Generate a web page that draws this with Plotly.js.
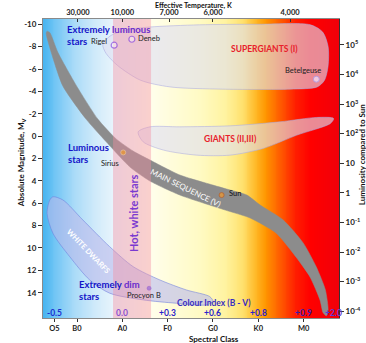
<!DOCTYPE html>
<html><head><meta charset="utf-8">
<script src="https://cdn.plot.ly/plotly-3.0.1.min.js"></script>
<style>html,body{margin:0;padding:0;background:#fff}#chart{width:366px;height:343px}</style>
</head><body><div id="chart"></div>
<script>
// ---- data (spectral index: O=0,B=1,A=2,F=3,G=4,K=5,M=6 ; absolute magnitude) ----
const spectralTicks = [0.5, 1, 2, 3, 4, 5, 6];
const spectralLabels = ['O5', 'B0', 'A0', 'F0', 'G0', 'K0', 'M0'];
const tempTicks = [1.02, 2.0, 3.03, 4.0, 5.7];
const tempLabels = ['30,000', '10,000', '7,000', '6,000', '4,000'];
const magTicks = [-10, -8, -6, -4, -2, 0, 2, 4, 6, 8, 10, 12, 14];
const magLabels = ['-10', '-8', '-6', '-4', '-2', '0', '2', '4', '6', '8', '10', '12', '14'];
const lumTicks = [1e5, 1e4, 1e3, 1e2, 10, 1, 0.1, 0.01, 0.001, 0.0001];
const lumLabels = ['10<sup>5</sup>', '10<sup>4</sup>', '10<sup>3</sup>', '10<sup>2</sup>', '10', '1',
                   '10<sup>-1</sup>', '10<sup>-2</sup>', '10<sup>-3</sup>', '10<sup>-4</sup>'];
const colourIndexPos = [0.5, 2, 3, 4, 5, 6, 6.66];
const colourIndexLabels = ['-0.5', '0.0', '+0.3', '+0.6', '+0.8', '+0.9', '+2.0'];
const colourIndexColors = ['#1a2fd0', '#8a4fd0', '#2a22cc', '#2a22cc', '#2a22cc', '#3a1aa8', '#5a3ad8'];

// regions
const mainSeqX = [0.34,0.40,0.58,0.99,1.46,1.87,2.24,2.61,3.27,4.00,4.38,4.75,5.04,5.55,5.99,6.28,6.48,6.54,6.50,
                  6.43,6.36,6.14,5.83,5.39,4.82,4.27,3.27,2.61,2.17,1.73,1.20,0.69,0.43,0.32];
const mainSeqY = [-9.38,-9.26,-7.47,-4.49,-1.52,0.27,1.34,2.14,3.48,4.38,4.82,5.27,6.16,7.5,9.55,11.7,13.75,15.54,16.07,
                  15.8,14.64,12.59,10.8,8.66,7.32,6.61,5.27,4.02,2.77,0.89,-1.52,-4.46,-7.5,-9.2];
const superGiantX = [1.57,1.75,2.1,2.6,3.7,5.0,6.15,6.42,6.54,6.54,6.46,6.3,5.7,4.2,3.05,2.4,1.9,1.64];
const superGiantY = [-8.2,-9.0,-9.5,-9.75,-9.95,-10.0,-9.95,-9.3,-8.0,-6.3,-5.0,-4.4,-4.2,-4.2,-4.4,-5.0,-6.3,-7.4];
const giantX = [2.35,2.61,3.27,4.38,5.48,6.29,6.66,6.59,5.85,5.11,4.38,3.64,2.91,2.46];
const giantY = [-0.38,-0.83,-0.83,-0.92,-1.28,-1.67,-1.58,-1.13,-0.09,1.10,1.70,1.70,1.25,0.51];
const dwarfX = [0.47,0.69,1.13,1.72,2.24,2.83,3.41,3.93,4.00,3.85,3.19,2.46,1.72,1.28,0.84,0.47,0.34,0.40];
const dwarfY = [5.42,5.71,7.5,9.88,11.67,12.86,13.75,14.35,14.79,15.09,14.94,14.64,14.04,12.86,10.78,8.69,6.9,5.71];
const hotBand = [1.795, 2.634];

// named stars
const starNames = ['Rigel', 'Deneb', 'Sirius', 'Sun', 'Procyon B', 'Betelgeuse'];
const starX = [1.82, 2.21, 2.02, 4.19, 2.59, 6.28];
const starY = [-8.13, -8.66, 1.46, 5.27, 13.6, -5.09];

// background colour gradient along the spectral axis
const gradX = [0.25, 0.514, 0.956, 1.397, 1.795, 2.634, 3.715, 4.267, 4.642, 4.929, 5.15, 5.481, 5.812, 6.143, 6.78];
const gradColors = ['rgb(70,180,240)','rgb(115,198,245)','rgb(172,220,248)','rgb(208,234,250)','rgb(232,244,252)',
  'rgb(255,254,235)','rgb(255,250,195)','rgb(255,243,160)','rgb(255,225,110)','rgb(255,185,40)','rgb(255,150,0)',
  'rgb(255,90,0)','rgb(255,30,0)','rgb(255,0,0)','rgb(240,0,10)'];

const XR = [0.25, 6.78], YR = [16.26, -10.47];
const FONT = 'Lato, Liberation Sans, Arial, sans-serif';

// build background heatmap
const gx = []; for (let v = 0.2; v <= 6.85; v += 0.02) gx.push(+v.toFixed(3));
const gz = [gx.slice(), gx.slice()];
const cs = gradX.map((v, i) => [(v - gradX[0]) / (gradX[gradX.length - 1] - gradX[0]), gradColors[i]]);

const traces = [
  {type: 'heatmap', x: gx, y: [-12, 18], z: gz, zmin: gradX[0], zmax: gradX[gradX.length - 1],
   colorscale: cs, showscale: false, zsmooth: 'best', hoverinfo: 'skip'},
  {type: 'scatter', mode: 'lines', x: superGiantX.concat([superGiantX[0]]), y: superGiantY.concat([superGiantY[0]]),
   fill: 'toself', fillcolor: 'rgba(222,222,240,0.62)', line: {color: 'rgba(170,170,225,0.9)', width: 0.6, shape: 'spline', smoothing: 0.8}, hoverinfo: 'skip'},
  {type: 'scatter', mode: 'lines', x: giantX.concat([giantX[0]]), y: giantY.concat([giantY[0]]),
   fill: 'toself', fillcolor: 'rgba(222,222,240,0.62)', line: {color: 'rgba(170,170,225,0.9)', width: 0.6, shape: 'spline', smoothing: 0.8}, hoverinfo: 'skip'},
  {type: 'scatter', mode: 'lines', x: dwarfX.concat([dwarfX[0]]), y: dwarfY.concat([dwarfY[0]]),
   fill: 'toself', fillcolor: 'rgba(185,185,235,0.6)', line: {color: 'rgba(110,125,220,0.8)', width: 0.7, shape: 'spline', smoothing: 0.8}, hoverinfo: 'skip'},
  {type: 'scatter', mode: 'lines', x: mainSeqX.concat([mainSeqX[0]]), y: mainSeqY.concat([mainSeqY[0]]),
   fill: 'toself', fillcolor: 'rgb(140,140,140)', line: {color: 'rgb(140,140,140)', width: 0.5, shape: 'spline', smoothing: 0.6}, hoverinfo: 'skip'},
  {type: 'scatter', mode: 'lines', x: [hotBand[0], hotBand[1], hotBand[1], hotBand[0], hotBand[0]], y: [-12, -12, 18, 18, -12],
   fill: 'toself', fillcolor: 'rgba(245,140,160,0.4)', line: {width: 0}, hoverinfo: 'skip'},
  {type: 'scatter', mode: 'markers', x: starX, y: starY, text: starNames, hoverinfo: 'text',
   marker: {size: [6, 6, 5, 5, 4, 6],
            color: ['rgba(255,255,255,0.6)', 'rgba(255,255,255,0.6)', '#f39a2a', '#f39a2a', '#9a6ad8', '#f4e6ff'],
            line: {color: ['#8a4ae0', '#8a4ae0', '#f7d0a0', '#c05010', '#7a40c8', '#a0a0ff'], width: [1.2, 1.2, 0.8, 0.8, 0.5, 1]}}},
  {type: 'scatter', mode: 'markers', x: [], y: [], xaxis: 'x2', yaxis: 'y2', hoverinfo: 'skip'}
];

function ann(text, x, y, o) {
  return Object.assign({text: text, x: x, y: y, xref: 'x', yref: 'y', showarrow: false,
    xanchor: 'center', yanchor: 'middle',
    font: {family: FONT, size: 8, color: '#222', weight: 'bold'}}, o || {});
}
function pann(text, x, y, o) {
  return Object.assign({text: text, x: x, y: y, xref: 'paper', yref: 'paper', showarrow: false,
    xanchor: 'center', yanchor: 'middle',
    font: {family: FONT, size: 7.5, color: '#111', weight: 'bold'}}, o || {});
}
const blue = '#1414c8', purp = '#6a2ccc';
const bigFont = {family: FONT, size: 9.5, color: blue, weight: 'bold'};
const annotations = [
  ann('Extremely <span style="color:' + purp + '">luminous</span><br>stars', 0.728, -9.0,
      {xanchor: 'left', align: 'left', font: bigFont}),
  ann('Luminous<br>stars', 0.757, 1.55, {xanchor: 'left', align: 'left', font: bigFont}),
  ann('Extremely <span style="color:' + purp + '">dim</span><br>stars', 1.007, 13.82,
      {xanchor: 'left', align: 'left', font: bigFont}),
  ann('Hot, white stars', 2.236, 6.875, {textangle: -90, font: {family: FONT, size: 11, color: '#7a3ad0', weight: 'bold'}}),
  ann('MAIN SEQUENCE (V)', 3.40, 4.67, {textangle: 26, font: {family: FONT, size: 8, color: '#fff', weight: 'normal'}}),
  ann('WHITE DWARFS', 1.25, 10.33, {textangle: 46, font: {family: FONT, size: 7.5, color: '#fff', weight: 'bold'}}),
  ann('GIANTS (II,III)', 4.377, 0.29, {font: {family: FONT, size: 8.5, color: '#e8202a', weight: 'bold'}}),
  ann('SUPERGIANTS (I)', 5.144, -7.83, {font: {family: FONT, size: 8.5, color: '#e8202a', weight: 'bold'}}),
  ann('Colour Index (B - V)', 4.013, 14.94, {font: {family: FONT, size: 8.5, color: '#3a2fc0', weight: 'bold'}}),
  ann('Rigel', 1.706, -8.42, {xanchor: 'right', font: {family: FONT, size: 7.5, color: '#222'}}),
  ann('Deneb', 2.302, -8.75, {xanchor: 'left', font: {family: FONT, size: 7.5, color: '#222'}}),
  ann('Sirius', 1.728, 2.41, {font: {family: FONT, size: 7.5, color: '#222'}}),
  ann('Sun', 4.311, 5.09, {xanchor: 'left', font: {family: FONT, size: 7.5, color: '#111'}}),
  ann('Procyon B', 2.479, 14.29, {font: {family: FONT, size: 7.5, color: '#222'}}),
  ann('Betelgeuse', 5.987, -5.89, {font: {family: FONT, size: 7.5, color: '#222'}}),
  pann('Effective Temperature, K', 0.507, 1.0452, {font: {family: FONT, size: 7, color: '#111', weight: 'bold'}}),
  pann('Spectral Class', 0.578, -0.0702, {font: {family: FONT, size: 8, color: '#111', weight: 'bold'}}),
  pann('Absolute Magnitude, M<sub>V</sub>', -0.074, 0.518, {textangle: -90, font: {family: FONT, size: 8, color: '#111', weight: 'bold'}}),
  pann('Luminosity compared to Sun', 1.078, 0.545, {textangle: -90, font: {family: FONT, size: 8, color: '#111', weight: 'bold'}})
];
colourIndexPos.forEach((p, i) => annotations.push(ann(colourIndexLabels[i], p, 15.78,
  {font: {family: FONT, size: 8.5, color: colourIndexColors[i], weight: 'bold'}})));

const tickFont = {family: FONT, size: 8, color: '#222', weight: 'bold'};
const layout = {
  width: 366, height: 343, margin: {l: 43, r: 27, t: 19, b: 25},
  paper_bgcolor: '#fff', plot_bgcolor: '#fff', showlegend: false,
  xaxis: {range: XR, tickvals: spectralTicks, ticktext: spectralLabels, ticks: 'outside', ticklen: 3, tickcolor: '#333',
          showgrid: false, zeroline: false, showline: true, linecolor: '#8a8a8a',
          tickfont: {family: FONT, size: 7.5, color: '#222', weight: 'bold'}},
  xaxis2: {range: XR, overlaying: 'x', side: 'top', tickvals: tempTicks, ticktext: tempLabels, ticks: 'inside', ticklen: 3,
           tickcolor: '#333', showgrid: false, zeroline: false, showline: true, linecolor: '#8a8a8a',
           tickfont: {family: FONT, size: 7.5, color: '#222', weight: 'bold'}},
  yaxis: {range: YR, tickvals: magTicks, ticktext: magLabels, ticks: 'outside', ticklen: 4, tickcolor: '#333',
          showgrid: false, zeroline: false, showline: true, linecolor: '#8a8a8a', tickfont: tickFont},
  yaxis2: {type: 'log', range: [-4.23, 5.875], overlaying: 'y', side: 'right', tickvals: lumTicks, ticktext: lumLabels,
           ticks: 'outside', ticklen: 4, tickcolor: '#333', showgrid: false, zeroline: false, showline: true,
           linecolor: '#333', tickfont: tickFont},
  annotations: annotations
};
Plotly.newPlot('chart', traces, layout, {staticPlot: true, displayModeBar: false});
</script></body></html>
